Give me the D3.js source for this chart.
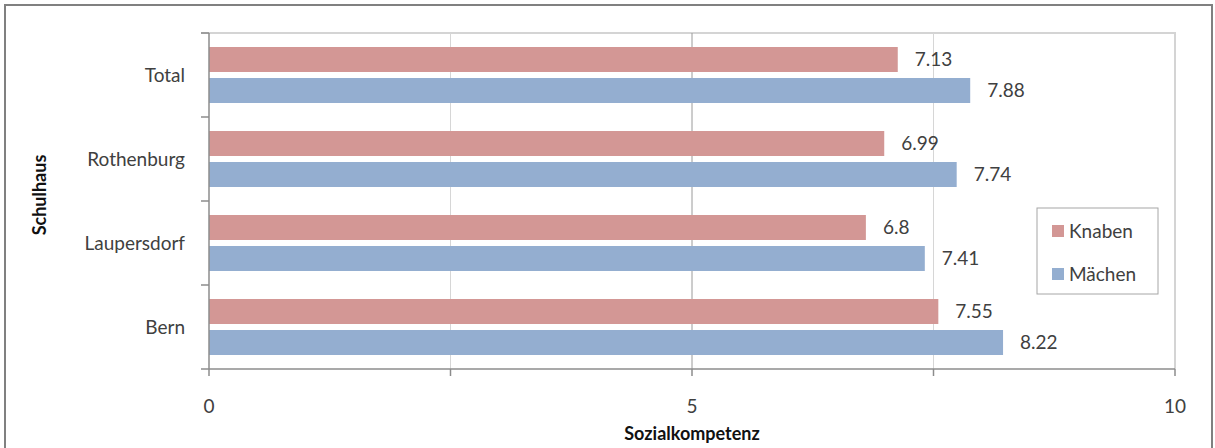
<!DOCTYPE html>
<html>
<head>
<meta charset="utf-8">
<script src="https://cdn.jsdelivr.net/npm/d3@7"></script>
<style>
  html, body { margin: 0; padding: 0; background: #fff; }
  svg { display: block; font-family: Lato, "Open Sans", sans-serif; }
</style>
</head>
<body>
<svg id="chart" width="1215" height="448"></svg>
<script>
// School buildings (top to bottom) and the two groups compared
const categories = ["Total", "Rothenburg", "Laupersdorf", "Bern"];
const seriesNames = ["Knaben", "Mächen"];
const knaben = [7.13, 6.99, 6.8, 7.55];
const maechen = [7.88, 7.74, 7.41, 8.22];
const xTickLabels = [0, 5, 10];
const gridValues = [2.5, 5, 7.5];
const seriesColors = ["#d39795", "#94aed0"];

const svg = d3.select("#chart");

const plot = { left: 209, right: 1175, top: 33, bottom: 369 };

const x = d3.scaleLinear().domain([0, 10]).range([plot.left, plot.right]);
const y = d3.scaleBand().domain(categories).range([plot.top, plot.bottom]);
const ySub = d3.scaleBand().domain(seriesNames)
  .range([0, y.bandwidth()])
  .paddingInner(6 / 31).paddingOuter(14 / 31);
const color = d3.scaleOrdinal().domain(seriesNames).range(seriesColors);

// Outer chart frame
svg.append("rect")
  .attr("x", 5).attr("y", 5).attr("width", 1207).attr("height", 460)
  .attr("fill", "#fff").attr("stroke", "#808080").attr("stroke-width", 2);

// Plot-area frame (top and right edges)
svg.append("path")
  .attr("d", `M${plot.left - 8},${plot.top}H${plot.right}V${plot.bottom}`)
  .attr("fill", "none").attr("stroke", "#d4d4d4").attr("stroke-width", 2);

// Vertical gridlines
svg.append("g").selectAll("line").data(gridValues).join("line")
  .attr("x1", d => x(d)).attr("x2", d => x(d))
  .attr("y1", plot.top).attr("y2", plot.bottom)
  .attr("stroke", d => d === 5 ? "#9a9a9a" : "#d6d6d6")
  .attr("stroke-width", 1);

// Rows of data
const rows = categories.map((c, i) => ({
  category: c,
  values: [
    { series: seriesNames[0], value: knaben[i] },
    { series: seriesNames[1], value: maechen[i] }
  ]
}));

const groups = svg.append("g").selectAll("g").data(rows).join("g")
  .attr("transform", d => `translate(0,${y(d.category)})`);

groups.selectAll("rect").data(d => d.values).join("rect")
  .attr("x", x(0))
  .attr("y", d => ySub(d.series))
  .attr("width", d => x(d.value) - x(0))
  .attr("height", ySub.bandwidth())
  .attr("fill", d => color(d.series));

groups.selectAll("text").data(d => d.values).join("text")
  .attr("x", d => x(d.value) + 17)
  .attr("y", d => ySub(d.series) + ySub.bandwidth() / 2)
  .attr("dy", "0.36em")
  .attr("font-size", 19)
  .attr("fill", "#404040")
  .text(d => String(d.value));

// Y axis: category labels and boundary ticks
const yAxis = svg.append("g");
yAxis.append("line")
  .attr("x1", plot.left).attr("x2", plot.left)
  .attr("y1", plot.top).attr("y2", plot.bottom)
  .attr("stroke", "#8c8c8c").attr("stroke-width", 1.5);
const bounds = categories.map(c => y(c)).concat([plot.bottom]);
yAxis.selectAll("line.tick").data(bounds).join("line")
  .attr("class", "tick")
  .attr("x1", plot.left - 8).attr("x2", plot.left)
  .attr("y1", d => d).attr("y2", d => d)
  .attr("stroke", "#8c8c8c").attr("stroke-width", 1.5);
yAxis.selectAll("text").data(categories).join("text")
  .attr("x", 185)
  .attr("y", d => y(d) + y.bandwidth() / 2)
  .attr("dy", "0.36em")
  .attr("text-anchor", "end")
  .attr("font-size", 19)
  .attr("fill", "#404040")
  .text(d => d);

// X axis
const xAxis = svg.append("g");
xAxis.append("line")
  .attr("x1", plot.left).attr("x2", plot.right)
  .attr("y1", plot.bottom).attr("y2", plot.bottom)
  .attr("stroke", "#8c8c8c").attr("stroke-width", 1.5);
xAxis.selectAll("line.tick").data([0, 2.5, 5, 7.5, 10]).join("line")
  .attr("class", "tick")
  .attr("x1", d => x(d)).attr("x2", d => x(d))
  .attr("y1", plot.bottom).attr("y2", plot.bottom + 7)
  .attr("stroke", "#8c8c8c").attr("stroke-width", 1.5);
xAxis.selectAll("text").data(xTickLabels).join("text")
  .attr("x", d => x(d))
  .attr("y", 413)
  .attr("text-anchor", "middle")
  .attr("font-size", 19)
  .attr("fill", "#404040")
  .text(d => d);

// Axis titles
svg.append("text")
  .attr("x", (plot.left + plot.right) / 2).attr("y", 440)
  .attr("text-anchor", "middle")
  .attr("font-size", 18).attr("font-weight", "bold")
  .attr("fill", "#111")
  .text("Sozialkompetenz");

svg.append("text")
  .attr("transform", "translate(40,195) rotate(-90)")
  .attr("dy", "0.36em")
  .attr("text-anchor", "middle")
  .attr("font-size", 18).attr("font-weight", "bold")
  .attr("fill", "#111")
  .text("Schulhaus");

// Legend
const legend = svg.append("g").attr("transform", "translate(1037,208)");
legend.append("rect")
  .attr("width", 121).attr("height", 86)
  .attr("fill", "#fff").attr("stroke", "#a6a6a6").attr("stroke-width", 1);
const items = legend.selectAll("g").data(seriesNames).join("g")
  .attr("transform", (d, i) => `translate(15,${23 + i * 43})`);
items.append("rect")
  .attr("x", 0).attr("y", -6).attr("width", 12).attr("height", 12)
  .attr("fill", d => color(d));
items.append("text")
  .attr("x", 17).attr("y", 0).attr("dy", "0.36em")
  .attr("font-size", 19).attr("fill", "#404040")
  .text(d => d);
</script>
</body>
</html>
